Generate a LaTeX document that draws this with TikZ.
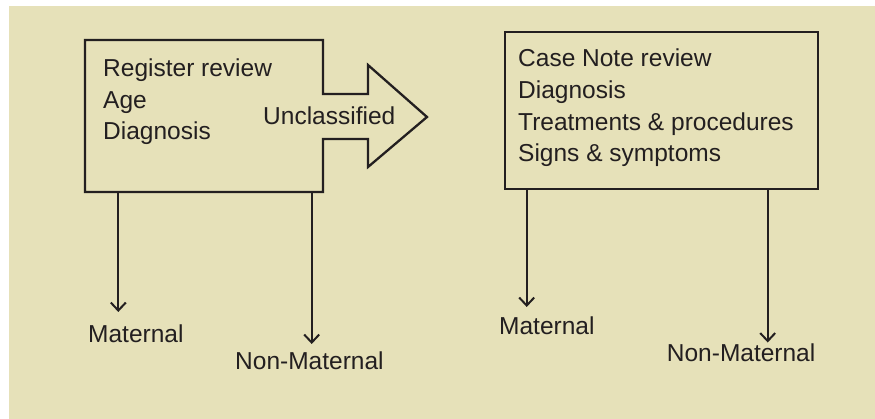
\documentclass[tikz,border=0pt]{standalone}
\usepackage{fontspec}
\setmainfont{Liberation Sans}
\usetikzlibrary{arrows.meta}
\definecolor{bgbeige}{HTML}{E6E1B9}
\definecolor{ink}{HTML}{231F20}
\begin{document}
\begin{tikzpicture}[x=1pt,y=-1pt,
  lbl/.style={anchor=base west,inner sep=0pt,text=ink,font=\fontsize{24.5}{30}\selectfont},
  shapeline/.style={draw=ink,line width=2.3pt,line join=miter},
  conn/.style={draw=ink,line width=2pt,-{Straight Barb[length=8pt,width=15pt,line width=2pt]}}]
\useasboundingbox (0,0) rectangle (875,419);
\fill[bgbeige] (9,6) rectangle (875,419);

% left box with arrow outline
\coordinate (lbnw) at (85,40);
\coordinate (lbse) at (323,192);
\draw[shapeline] (lbnw) -- (lbnw -| lbse) -- (323,94) -- (368,94) -- (368,65) -- (427,117)
  -- (368,167) -- (368,139) -- (323,139) -- (lbse) -- (lbnw |- lbse) -- cycle;
\node[lbl] (l1) at (103,76.5) {Register review};
\node[lbl] (l2) at (103,108.5) {Age};
\node[lbl] (l3) at (103,140) {Diagnosis};
\node[lbl] (unc) at (263,124.3) {Unclassified};

% right box
\node[shapeline,minimum width=313pt,minimum height=157pt,inner sep=0pt] (rbox) at (661.5,110.5) {};
\node[lbl] (r1) at (518,66.7) {Case Note review};
\node[lbl] (r2) at (518,98.3) {Diagnosis};
\node[lbl] (r3) at (518,130.5) {Treatments \& procedures};
\node[lbl] (r4) at (518,161.7) {Signs \& symptoms};

% outcome labels
\node[lbl] (lm) at (88,343) {Maternal};
\node[lbl] (lnm) at (235,370) {Non-Maternal};
\node[lbl] (rm) at (499,334.3) {Maternal};
\node[lbl] (rnm) at (666.7,361) {Non-Maternal};

% arrow tips
\coordinate (tlm) at (118.3,312);
\coordinate (tlnm) at (311.7,344);
\coordinate (trm) at (526.7,307);
\coordinate (trnm) at (767.7,342.5);
\coordinate (slm) at (118.3,192);
\coordinate (slnm) at (311.7,192);

\draw[conn] (slm) -- (tlm);
\draw[conn] (slnm) -- (tlnm);
\draw[conn] (rbox.south -| trm) -- (trm);
\draw[conn] (rbox.south -| trnm) -- (trnm);
\end{tikzpicture}
\end{document}
